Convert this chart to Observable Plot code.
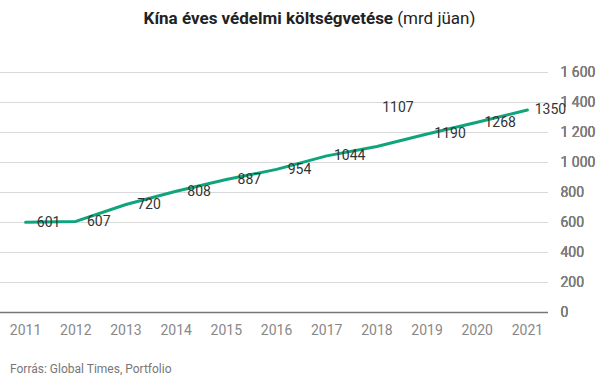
<!DOCTYPE html>
<html><head><meta charset="utf-8">
<script src="https://cdn.jsdelivr.net/npm/d3@7"></script>
<script src="https://cdn.jsdelivr.net/npm/@observablehq/plot@0.6"></script>
<style>
body{margin:0;background:#fff;font-family:Roboto,sans-serif;}
#title{height:36px;line-height:36px;text-align:center;font-size:17px;color:#222;padding-left:18px;}
#title b{font-weight:700;}
#caption{margin-top:15px;padding-left:10px;font-size:12px;color:#777;line-height:16px;}
</style></head>
<body>
<div id="title"><b>Kína éves védelmi költségvetése</b> (mrd jüan)</div>
<div id="chart"></div>
<div id="caption">Forrás: Global Times, Portfolio</div>
<script>
const years = [2011, 2012, 2013, 2014, 2015, 2016, 2017, 2018, 2019, 2020, 2021];
const budget = [601, 607, 720, 808, 887, 954, 1044, 1107, 1190, 1268, 1350];
const yTicks = [0, 200, 400, 600, 800, 1000, 1200, 1400, 1600];
const raisedLabelYear = 2018;

const data = years.map((y, i) => ({year: y, value: budget[i]}));
const fmt = v => v >= 1000 ? d3.format(",")(v).replace(",", "\u00a0") : String(v);

const chart = Plot.plot({
  width: 601,
  height: 310,
  marginLeft: 0,
  marginRight: 53,
  marginTop: 36,
  marginBottom: 34,
  style: {fontFamily: "Roboto, sans-serif", fontSize: "14px", background: "#fff"},
  x: {domain: [2010.5, 2021.42], ticks: years, tickFormat: d => String(d), tickSize: 0, tickPadding: 13, label: null},
  y: {domain: [0, 1600], ticks: yTicks, tickFormat: fmt, axis: "right", tickSize: 0, tickPadding: 12, label: null},
  marks: [
    Plot.ruleY(yTicks.filter(t => t > 0), {stroke: "#d9d9d9", strokeWidth: 1}),
    Plot.ruleY([0], {stroke: "#777", strokeWidth: 1.3}),
    Plot.axisX({ticks: years, tickFormat: d => String(d), tickSize: 0, tickPadding: 13, fill: "#888", fontSize: 14, label: null}),
    Plot.axisY({anchor: "right", ticks: yTicks, tickFormat: fmt, tickSize: 0, tickPadding: 12, fill: "#888", fontSize: 14, textAnchor: "start", label: null}),
    Plot.line(data, {x: "year", y: "value", stroke: "#10a47c", strokeWidth: 3}),
    Plot.text(data.filter(d => d.year !== raisedLabelYear), {x: "year", y: "value", text: d => String(d.value), dx: 23, fill: "#333", fontSize: 14}),
    Plot.text(data.filter(d => d.year === raisedLabelYear), {x: "year", y: "value", text: d => String(d.value), dx: 21, dy: -39, fill: "#333", fontSize: 14})
  ]
});
document.getElementById("chart").appendChild(chart);
</script>
</body></html>
